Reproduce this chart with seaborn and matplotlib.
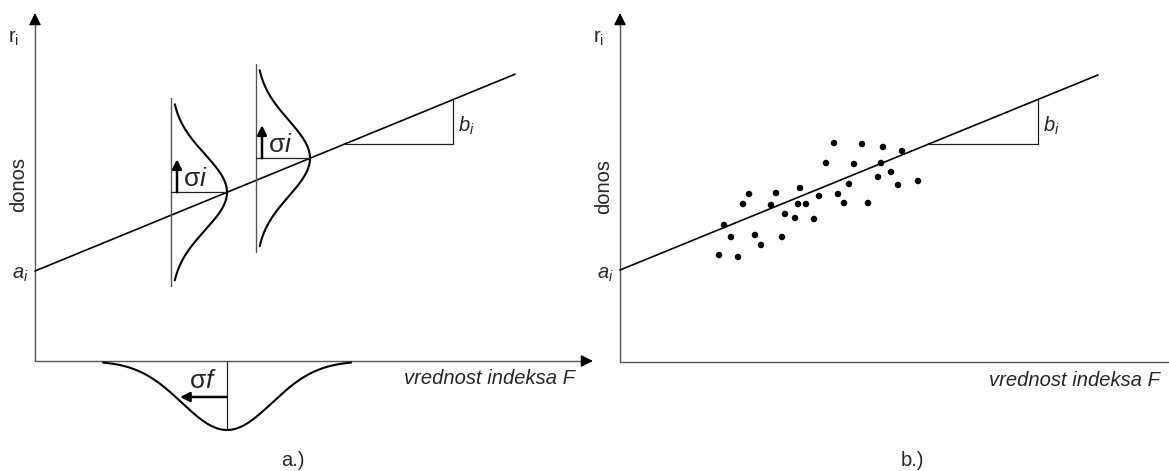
import numpy as np
import pandas as pd
import matplotlib
matplotlib.use('Agg')
import matplotlib.pyplot as plt
import seaborn as sns

# ---- panel a.) : regression line with conditional densities ----
line_a = [90, 0.41]            # a_i (intercept), b_i (slope)
line_a_x = [0, 480]
stem_x = [136, 221]            # vertical stems of the two densities
dens_amp = [56, 54]
dens_sigma = [38, 38]
dens_half = 88
stem_half = 94
sigma_i_len = 33
f_center = 192                 # density of F under the x axis
f_depth = 69
f_sigma = 45
f_half = 124
sigma_f_len = 47
tri_a = [310, 418]

# ---- panel b.) : scatter around the regression line ----
line_b = [92, 0.408]
line_b_x = [0, 478]
tri_b = [308, 418]
pts_x = [214, 242, 263, 282, 206, 234, 261, 271, 258, 298, 278, 229, 129, 156,
         180, 199, 218, 123, 151, 178, 186, 224, 248, 165, 175, 194, 104, 111,
         135, 162, 141, 99, 118]
pts_y = [219, 218, 215, 211, 199, 198, 199, 190, 185, 181, 177, 178, 168, 169,
         174, 166, 168, 158, 157, 158, 158, 159, 159, 148, 144, 143, 137, 125,
         127, 125, 117, 107, 105]

sns.set_theme(style='white')
plt.rcParams['font.family'] = ['Liberation Sans', 'DejaVu Sans']
plt.rcParams['mathtext.fontset'] = 'custom'
plt.rcParams['mathtext.rm'] = 'Liberation Sans'
plt.rcParams['mathtext.it'] = 'Liberation Sans:italic'

fig = plt.figure(figsize=(11.69, 4.71), dpi=100)
ax_a = fig.add_axes([0, 0, 584 / 1169, 1])
ax_b = fig.add_axes([584 / 1169, 0, 585 / 1169, 1])
ax_a.set_xlim(-35, 549)
ax_a.set_ylim(-110, 361)
ax_b.set_xlim(-36, 549)
ax_b.set_ylim(-109, 362)

AXC = '#555555'
FS = 14.5


def arrow(ax, start, tip, color='black', lw=1.0, ms=18):
    ax.annotate('', xy=tip, xytext=start, annotation_clip=False,
                arrowprops=dict(arrowstyle='-|>', color=color, lw=lw,
                                mutation_scale=ms, shrinkA=0, shrinkB=0))


def axes_frame(ax, x_end, y_end):
    ax.plot([0, x_end - 8], [0, 0], color=AXC, lw=1.0, clip_on=False)
    ax.plot([0, 0], [0, y_end - 8], color=AXC, lw=1.0)
    arrow(ax, (x_end - 10, 0), (x_end, 0))
    arrow(ax, (0, y_end - 10), (0, y_end))


def reg_line(ax, coef, xs, tri):
    x = np.array(xs, dtype=float)
    sns.lineplot(x=x, y=coef[0] + coef[1] * x, color='black', lw=1.2, ax=ax)
    y0 = coef[0] + coef[1] * tri[0]
    y1 = coef[0] + coef[1] * tri[1]
    ax.plot([tri[0], tri[1], tri[1]], [y0, y0, y1], color='#222222', lw=0.9)
    ax.text(tri[1] + 5, (y0 + y1) / 2 - 4, r'$\mathit{b}_\mathit{i}$',
            fontsize=FS, ha='left', va='center')
    ax.text(-6, coef[0] - 4, r'$\mathit{a}_\mathit{i}$', fontsize=FS,
            ha='right', va='center')


for ax, xe, ye in [(ax_a, 558, 348), (ax_b, 566, 349)]:
    axes_frame(ax, xe, ye)
    ax.text(-21, ye - 25, r'r$_\mathregular{i}$', fontsize=FS, ha='center',
            va='center')
    ax.text(-16, 176, 'donos', fontsize=FS, rotation=90, ha='center',
            va='center')
    ax.text(540, -18, 'vrednost indeksa F', fontsize=FS, style='italic',
            ha='right', va='center')
    ax.set_axis_off()

# panel a
reg_line(ax_a, line_a, line_a_x, tri_a)
for sx, amp, sg in zip(stem_x, dens_amp, dens_sigma):
    mu = line_a[0] + line_a[1] * (sx + amp)
    yy = np.linspace(mu - dens_half, mu + dens_half, 200)
    xx = sx + amp * np.exp(-0.5 * ((yy - mu) / sg) ** 2)
    curve = pd.DataFrame({'x': xx, 'y': yy})
    sns.lineplot(data=curve, x='x', y='y', sort=False, estimator=None,
                 color='black', lw=1.5, ax=ax_a)
    ax_a.plot([sx, sx], [mu - stem_half, mu + stem_half], color=AXC, lw=1.0)
    ax_a.plot([sx, sx + amp], [mu, mu], color='#222222', lw=0.9)
    arrow(ax_a, (sx + 6, mu), (sx + 6, mu + sigma_i_len), lw=1.8, ms=14)
    ax_a.text(sx + 12, mu + 13, r'σ$\mathit{i}$', fontsize=19, ha='left',
              va='center')

fx = np.linspace(f_center - f_half, f_center + f_half, 300)
fy = -f_depth * np.exp(-0.5 * ((fx - f_center) / f_sigma) ** 2)
sns.lineplot(x=fx, y=fy, color='black', lw=1.5, ax=ax_a)
ax_a.plot([f_center, f_center], [0, -f_depth], color='#222222', lw=0.9)
arrow(ax_a, (f_center, -36), (f_center - sigma_f_len, -36), lw=1.8, ms=14)
ax_a.text(f_center - 24, -20, r'σ$\mathit{f}$', fontsize=19, ha='center',
          va='center')
ax_a.text(258, -99, 'a.)', fontsize=FS, ha='center', va='center')

# panel b
reg_line(ax_b, line_b, line_b_x, tri_b)
sns.scatterplot(x=pts_x, y=pts_y, color='black', s=22, edgecolor='none',
                ax=ax_b)
ax_b.text(292, -98, 'b.)', fontsize=FS, ha='center', va='center')

fig.savefig('out.png', dpi=100)
